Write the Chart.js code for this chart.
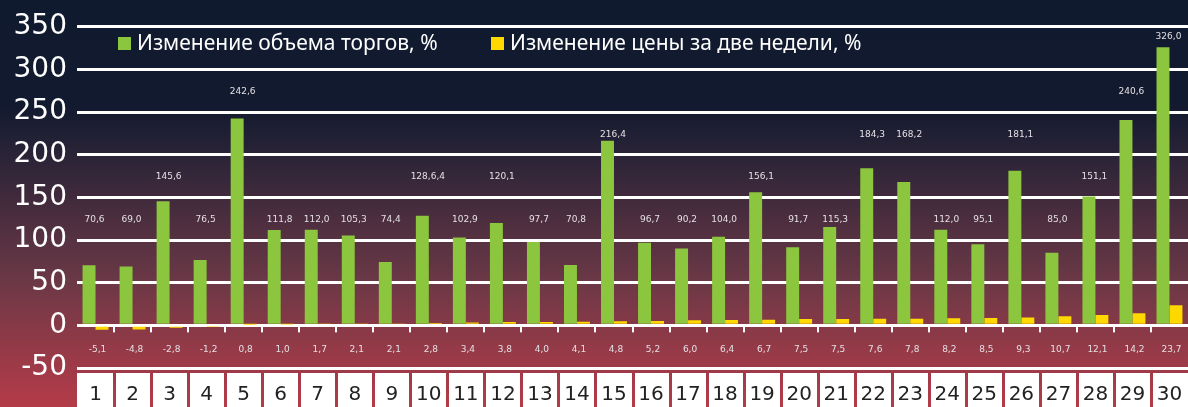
<!DOCTYPE html>
<html><head><meta charset="utf-8">
<script src="https://cdn.jsdelivr.net/npm/chart.js@4.4.0/dist/chart.umd.min.js"></script>
<style>html,body{margin:0;padding:0;background:#101a2f;overflow:hidden}#wrap{width:1188px;height:407px}</style>
</head><body><div id="wrap"><canvas id="c" width="1188" height="407"></canvas></div>
<script>
const categories = ['1','2','3','4','5','6','7','8','9','10','11','12','13','14','15','16','17','18','19','20','21','22','23','24','25','26','27','28','29','30'];
const volumeChange = [70.6,69.0,145.6,76.5,242.6,111.8,112.0,105.3,74.4,128.6,102.9,120.1,97.7,70.8,216.4,96.7,90.2,104.0,156.1,91.7,115.3,184.3,168.2,112.0,95.1,181.1,85.0,151.1,240.6,326.0];
const priceChange = [-5.1,-4.8,-2.8,-1.2,0.8,1.0,1.7,2.1,2.1,2.8,3.4,3.8,4.0,4.1,4.8,5.2,6.0,6.4,6.7,7.5,7.5,7.6,7.8,8.2,8.5,9.3,10.7,12.1,14.2,23.7];
const volumeLabels = ['70,6','69,0','145,6','76,5','242,6','111,8','112,0','105,3','74,4','128,6,4','102,9','120,1','97,7','70,8','216,4','96,7','90,2','104,0','156,1','91,7','115,3','184,3','168,2','112,0','95,1','181,1','85,0','151,1','240,6','326,0'];
const priceLabels = ['-5,1','-4,8','-2,8','-1,2','0,8','1,0','1,7','2,1','2,1','2,8','3,4','3,8','4,0','4,1','4,8','5,2','6,0','6,4','6,7','7,5','7,5','7,6','7,8','8,2','8,5','9,3','10,7','12,1','14,2','23,7'];
const seriesNames = ['Изменение объема торгов, %','Изменение цены за две недели, %'];
const yMin = -50, yMax = 350, yStep = 50;

const GREEN = '#8cc63e', YELLOW = '#ffd800';

const decor = {
  id: 'decor',
  beforeDraw(chart) {
    const ctx = chart.ctx, W = chart.width, H = chart.height, a = chart.chartArea;
    ctx.save();
    const g = ctx.createLinearGradient(0, 0, 0, H);
    g.addColorStop(0, '#101a2f');
    g.addColorStop(0.26, '#121a2f');
    g.addColorStop(0.36, '#262236');
    g.addColorStop(0.69, '#6b3846');
    g.addColorStop(0.88, '#9a3a48');
    g.addColorStop(1, '#b43b48');
    ctx.fillStyle = g;
    ctx.fillRect(0, 0, W, H);
    // category boxes
    const x = chart.scales.x;
    const step = (a.right - a.left) / categories.length;
    ctx.fillStyle = '#ffffff';
    categories.forEach((c, i) => {
      const cx = x.getPixelForValue(i);
      const l = Math.round(cx - step / 2), r = Math.round(cx + step / 2);
      const left = i === 0 ? l : l + 2;
      const right = i === categories.length - 1 ? r : r - 1;
      ctx.fillRect(left, a.bottom + 5, right - left, H - a.bottom - 5);
    });
    ctx.restore();
  },
  afterDatasetsDraw(chart) {
    const ctx = chart.ctx, a = chart.chartArea;
    const x = chart.scales.x, y = chart.scales.y;
    const step = (a.right - a.left) / categories.length;
    const y0 = y.getPixelForValue(0);
    ctx.save();
    // small ticks below zero line
    ctx.fillStyle = '#ffffff';
    for (let i = 1; i < categories.length; i++) {
      const bx = x.getPixelForValue(i) - step / 2;
      ctx.fillRect(Math.round(bx) - 1, y0, 2, 7);
    }
    // value labels
    ctx.font = '9px "DejaVu Sans"';
    ctx.fillStyle = '#e4e0e4';
    ctx.textAlign = 'center';
    ctx.textBaseline = 'middle';
    volumeChange.forEach((v, i) => {
      const lv = v > 300 ? v + 12 : Math.floor((v + 32) / 50) * 50 + 24;
      ctx.fillText(volumeLabels[i], x.getPixelForValue(i) - 1, y.getPixelForValue(lv));
    });
    priceChange.forEach((v, i) => {
      ctx.fillText(priceLabels[i], x.getPixelForValue(i) + 2, y.getPixelForValue(-28));
    });
    // legend
    ctx.font = '21px "Noto Sans"';
    ctx.textAlign = 'left';
    ctx.fillStyle = GREEN;
    ctx.fillRect(118, 37, 13, 13);
    ctx.fillStyle = '#ffffff';
    ctx.fillText(seriesNames[0], 137, 44);
    ctx.fillStyle = YELLOW;
    ctx.fillRect(491, 37, 13, 13);
    ctx.fillStyle = '#ffffff';
    ctx.fillText(seriesNames[1], 510, 44);
    ctx.restore();
  }
};

new Chart(document.getElementById('c'), {
  type: 'bar',
  data: {
    labels: categories,
    datasets: [
      { label: seriesNames[0], data: volumeChange, backgroundColor: GREEN, borderWidth: 0 },
      { label: seriesNames[1], data: priceChange, backgroundColor: YELLOW, borderWidth: 0 }
    ]
  },
  options: {
    responsive: false,
    animation: false,
    devicePixelRatio: 1,
    layout: { padding: { top: 22, right: 0, left: 0, bottom: 0 } },
    datasets: { bar: { categoryPercentage: 0.7, barPercentage: 1.0 } },
    plugins: { legend: { display: false }, tooltip: { enabled: false } },
    scales: {
      x: {
        grid: { display: false },
        border: { display: false },
        ticks: { color: '#222222', font: { family: '"DejaVu Sans"', size: 20 }, padding: 7, maxRotation: 0, autoSkip: false },
        afterFit(s) { s.height = 39; s.paddingLeft = 0; s.paddingRight = 0; }
      },
      y: {
        min: yMin, max: yMax,
        border: { display: false },
        grid: { color: '#ffffff', lineWidth: 3, drawTicks: false },
        ticks: { stepSize: yStep, color: '#ffffff', font: { family: '"DejaVu Sans"', size: 28 }, padding: 10 },
        afterFit(s) { s.width = 77; }
      }
    }
  },
  plugins: [decor]
});
</script>
</body></html>
